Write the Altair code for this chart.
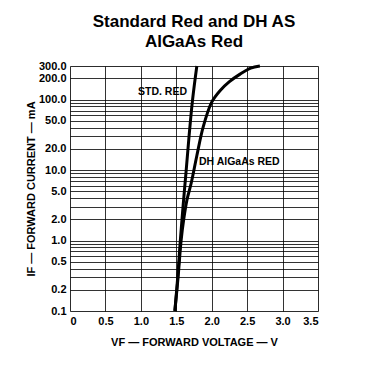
import altair as alt
import pandas as pd

# ---- data ----
STD_V = [1.48, 1.52, 1.557, 1.595, 1.64, 1.68, 1.73, 1.79]
STD_I = [0.1, 0.3, 1.0, 3.0, 10, 30, 100, 300]

DH_V = [1.48, 1.525, 1.568, 1.605, 1.65, 1.71, 1.79, 1.88, 2.0, 2.12, 2.25, 2.40, 2.55, 2.68]
DH_I = [0.1, 0.3, 1.0, 2.0, 3.75, 6.5, 16, 41, 92, 135, 180, 230, 280, 300]

X_TICKS = [0, 0.5, 1.0, 1.5, 2.0, 2.5, 3.0, 3.5]
Y_LABELS = [0.1, 0.2, 0.5, 1, 2, 5, 10, 20, 50, 100, 200, 300]
Y_GRID = [0.1, 0.2, 0.3, 0.4, 0.5, 0.6, 0.7, 0.8, 0.9,
          1, 2, 3, 4, 5, 6, 7, 8, 9,
          10, 20, 30, 40, 50, 60, 70, 80, 90,
          100, 200, 300]

LABEL_TEXT = ["STD. RED", "DH AlGaAs RED"]
LABEL_V = [0.96, 1.82]
LABEL_I = [128, 13.0]

FONT = "Liberation Sans"

curves = pd.DataFrame({
    "V": STD_V + DH_V,
    "I": STD_I + DH_I,
    "series": ["STD"] * len(STD_V) + ["DH"] * len(DH_V),
    "order": list(range(len(STD_V))) + list(range(len(DH_V))),
})
labels = pd.DataFrame({"V": LABEL_V, "I": LABEL_I, "text": LABEL_TEXT})

label_list = ",".join(str(v) for v in Y_LABELS)

common_axis = dict(
    domain=False, ticks=False, grid=True,
    gridColor="#000000", gridOpacity=0.8, gridWidth=1,
    labelFont=FONT, labelFontSize=11, labelFontWeight="bold",
    labelColor="black", labelPadding=4, labelOverlap=False,
    titleFont=FONT, titleFontSize=11, titleFontWeight="bold",
    titleColor="black",
)

x_enc = alt.X(
    "V:Q",
    scale=alt.Scale(domain=[0, 3.5], nice=False, zero=False),
    axis=alt.Axis(
        values=X_TICKS,
        labelExpr="datum.value == 0 ? '0' : format(datum.value, '.1f')",
        title="VF — FORWARD VOLTAGE — V",
        titlePadding=10,
        **common_axis,
    ),
)
y_enc = alt.Y(
    "I:Q",
    scale=alt.Scale(type="log", domain=[0.1, 300], nice=False),
    axis=alt.Axis(
        values=Y_GRID,
        labelExpr="indexof([" + label_list + "], datum.value) >= 0 ? format(datum.value, '.1f') : ''",
        title="IF — FORWARD CURRENT — mA",
        titlePadding=2,
        **common_axis,
    ),
)

lines = alt.Chart(curves).mark_line(
    color="black", strokeWidth=3, interpolate="catmull-rom"
).encode(x=x_enc, y=y_enc, detail="series:N", order="order:Q")

text = alt.Chart(labels).mark_text(
    align="left", baseline="middle", font=FONT, fontSize=10.5,
    fontWeight="bold", color="black"
).encode(x=x_enc, y=y_enc, text="text:N")

chart = alt.layer(lines, text).properties(
    width=248,
    height=245,
    title=alt.TitleParams(
        text=["Standard Red and DH AS", "AlGaAs Red"],
        font=FONT, fontSize=17, fontWeight="bold", color="black",
        lineHeight=20, anchor="middle", offset=9,
    ),
    autosize=alt.AutoSizeParams(type="none"),
    padding={"left": 62, "top": 58, "right": 52, "bottom": 51},
).configure_view(
    stroke="black", strokeWidth=1.5
).configure(background="white")

chart.save("out.html", embed_options={"renderer": "svg", "actions": False})
